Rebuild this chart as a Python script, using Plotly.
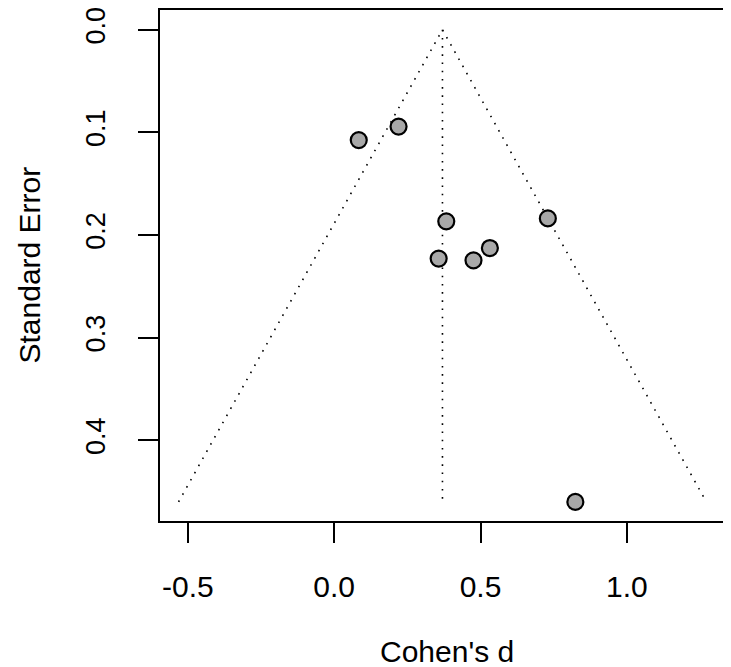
import plotly.graph_objects as go

# study effect sizes (Cohen's d) and standard errors
cohens_d = [0.084, 0.220, 0.383, 0.730, 0.357, 0.476, 0.532, 0.824]
std_err = [0.1075, 0.0944, 0.1867, 0.1838, 0.223, 0.2247, 0.2127, 0.460]

# pooled estimate and funnel depth
estimate = 0.37
se_max = 0.46
z = 1.96

x_ticks = [-0.5, 0.0, 0.5, 1.0]
x_labels = ["-0.5", "0.0", "0.5", "1.0"]
y_ticks = [0.0, 0.1, 0.2, 0.3, 0.4]
y_labels = ["0.0", "0.1", "0.2", "0.3", "0.4"]

font = dict(family="Liberation Sans, Arial, sans-serif", size=30, color="black")
title_font = dict(family="Liberation Sans, Arial, sans-serif", size=30, color="black")
dotted = dict(color="black", width=1.6, dash="1.6px,6.6px")

fig = go.Figure()

# funnel (pseudo 95% limits) and vertical line at the estimate
fig.add_trace(go.Scatter(
    x=[estimate - z * se_max, estimate, estimate + z * se_max],
    y=[se_max, 0, se_max],
    mode="lines", line=dotted, hoverinfo="skip"))
fig.add_trace(go.Scatter(
    x=[estimate, estimate], y=[0, se_max],
    mode="lines", line=dotted, hoverinfo="skip"))

fig.add_trace(go.Scatter(
    x=cohens_d, y=std_err, mode="markers",
    marker=dict(size=16, color="#A8A8A8", line=dict(color="black", width=2.2))))

fig.update_layout(
    width=731, height=667,
    margin=dict(l=152, r=5, t=2, b=154),
    paper_bgcolor="white", plot_bgcolor="white",
    showlegend=False, font=font,
)
fig.update_xaxes(
    range=[-0.595, 1.366], tickvals=x_ticks, ticktext=x_labels,
    showgrid=False, zeroline=False, showline=True, linecolor="black",
    linewidth=2, mirror=True, ticks="outside", ticklen=20, tickwidth=2,
    tickcolor="black", ticklabelstandoff=18, automargin=False,
    ticklabeloverflow="allow",
)
fig.update_yaxes(
    range=[0.4786, -0.0192], tickvals=y_ticks, ticktext=y_labels,
    tickangle=-90, tickfont=dict(size=27),
    showgrid=False, zeroline=False, showline=True, linecolor="black",
    linewidth=2, mirror=True, ticks="outside", ticklen=20, tickwidth=2,
    tickcolor="black", ticklabelstandoff=22, automargin=False,
    ticklabeloverflow="allow",
)

# axis titles placed as in the R plot
fig.add_annotation(text="Cohen's d", xref="paper", yref="paper", x=0.5, y=0,
                   xanchor="center", yanchor="middle", yshift=-130,
                   showarrow=False, font=title_font)
fig.add_annotation(text="Standard Error", xref="paper", yref="paper", x=0, y=0.5,
                   xanchor="center", yanchor="middle", xshift=-131, textangle=-90,
                   showarrow=False, font=title_font)

fig.write_html("out.html")
